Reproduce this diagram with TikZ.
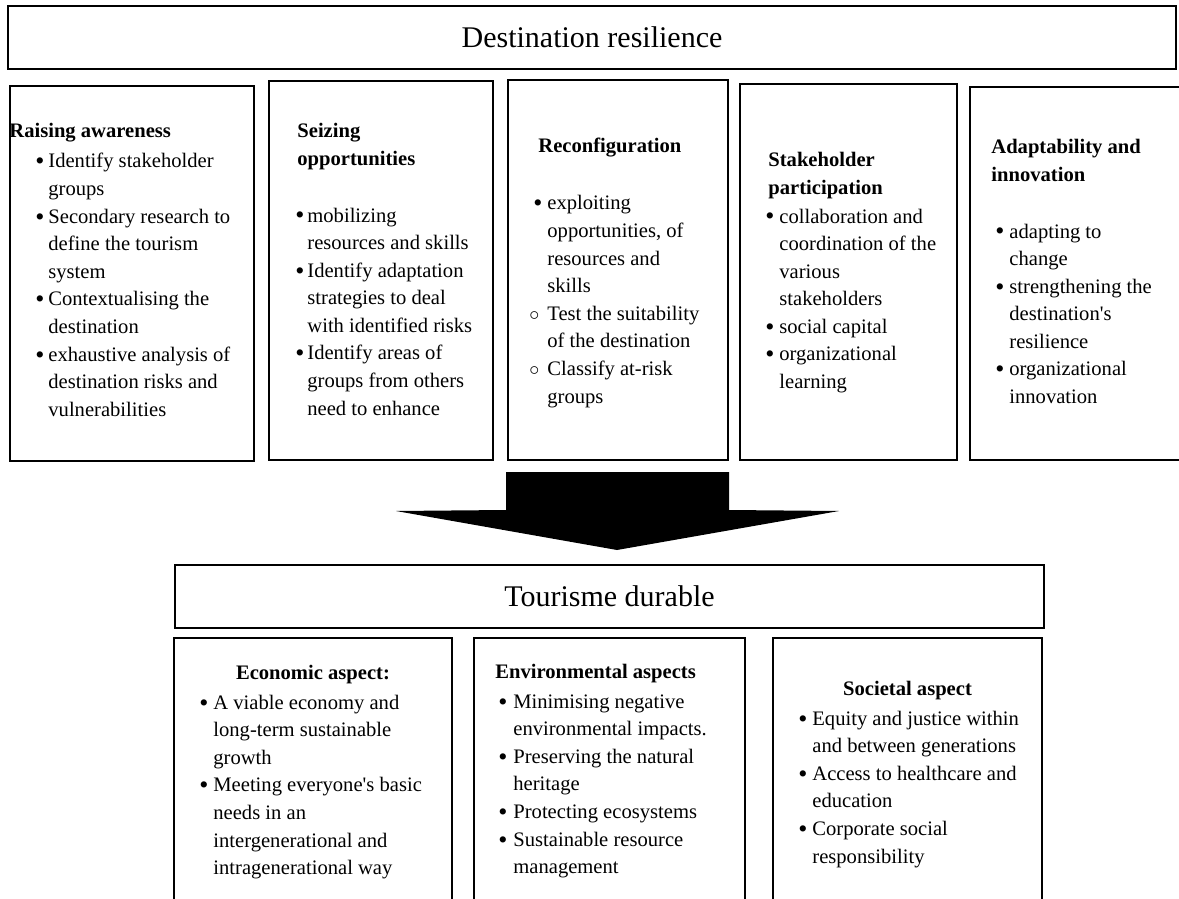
\documentclass[tikz,border=0pt]{standalone}
\usepackage{fontspec}
\setmainfont{Liberation Serif}
\usetikzlibrary{fit}

\newlength{\tind}
\newcommand{\blk}[1]{\begin{tabular}[t]{@{}l@{}}#1\end{tabular}}
\newcommand{\itm}{\makebox[\tind][l]{\raisebox{-1pt}{\fontsize{13}{13}\selectfont\textbullet}}}
\newcommand{\itmo}{\makebox[\tind][l]{\hspace*{-2pt}$\circ$}}
\newcommand{\cnt}{\hspace*{\tind}}

\begin{document}
\begin{tikzpicture}[
x=0.5pt, y=-0.5pt,
frame/.style={draw, line width=1pt, inner sep=0pt},
bigtitle/.style={inner sep=0pt, font=\fontsize{15}{18}\selectfont},
txt/.style={inner sep=0pt, anchor=base west, font=\fontsize{10.3}{13.8}\selectfont},
head/.style={txt, font=\fontsize{10.3}{13.8}\selectfont\bfseries},
lst/.style={txt, execute at begin node={\setlength{\tind}{#1}}}
]
\useasboundingbox (0,0) rectangle (1179,899);
\clip (0,0) rectangle (1179,899);
\fill[white] (0,0) rectangle (1179,899);

% resilience part
\node[frame, fit={(8,6) (1176,69)}] (top) {};
\node[bigtitle] (ttop) at (top.center) {Destination resilience};
\node[frame, fit={(10,86) (254,461)}] (r1) {};
\node[frame, fit={(269,81) (493,460)}] (r2) {};
\node[frame, fit={(508,80) (728,460)}] (r3) {};
\node[frame, fit={(740,84) (957,460)}] (r4) {};
\node[frame, fit={(970,87) (1195,460)}] (r5) {};

\node[head] (h1) at (9,138) {Raising awareness};
\node[head] (h2) at (297,138) {\blk{Seizing\\opportunities}};
\node[head] (h3) at (538,153) {Reconfiguration};
\node[head] (h4) at (768,167) {\blk{Stakeholder\\participation}};
\node[head] (h5) at (991,154) {\blk{Adaptability and\\innovation}};

\node[lst=6.5pt] (l1) at (35,168) {\blk{\itm Identify stakeholder\\ \cnt groups\\
  \itm Secondary research to\\ \cnt define the tourism\\ \cnt system\\
  \itm Contextualising the\\ \cnt destination\\
  \itm exhaustive analysis of\\ \cnt destination risks and\\ \cnt vulnerabilities}};
\node[lst=6pt] (l2) at (295,222) {\blk{\itm mobilizing\\ \cnt resources and skills\\
  \itm Identify adaptation\\ \cnt strategies to deal\\ \cnt with identified risks\\
  \itm Identify areas of\\ \cnt groups from others\\ \cnt need to enhance}};
\node[lst=7pt] (l3) at (533,210) {\blk{\itm exploiting\\ \cnt opportunities, of\\
  \cnt resources and\\ \cnt skills\\
  \itmo Test the suitability\\ \cnt of the destination\\
  \itmo Classify at-risk\\ \cnt groups}};
\node[lst=7pt] (l4) at (765,223) {\blk{\itm collaboration and\\ \cnt coordination of the\\
  \cnt various\\ \cnt stakeholders\\
  \itm social capital\\
  \itm organizational\\ \cnt learning}};
\node[lst=7pt] (l5) at (995,238) {\blk{\itm adapting to\\ \cnt change\\
  \itm strengthening the\\ \cnt destination\textquotesingle s\\ \cnt resilience\\
  \itm organizational\\ \cnt innovation}};

% big arrow
\fill (506,472) -- (729,472) -- (729,510) -- (839,511) -- (617,550)
  -- (396,511) -- (506,510) -- cycle;

% sustainable tourism part
\node[frame, fit={(175,565) (1044,628)}] (tour) {};
\node[bigtitle] (ttour) at (tour.center) {Tourisme durable};
\node[frame, fit={(174,638) (452,920)}] (rA) {};
\node[frame, fit={(474,638) (745,920)}] (rB) {};
\node[frame, fit={(773,638) (1042,920)}] (rC) {};

\node[head, anchor=base] (hA) at (313,679) {Economic aspect:};
\node[head] (hB) at (495,678) {Environmental aspects};
\node[head, anchor=base] (hC) at (907.5,695) {Societal aspect};

\node[lst=7pt] (lA) at (199,709) {\blk{\itm A viable economy and\\ \cnt long-term sustainable\\
  \cnt growth\\
  \itm Meeting everyone\textquotesingle s basic\\ \cnt needs in an\\
  \cnt intergenerational and\\ \cnt intragenerational way}};
\node[lst=7.5pt] (lB) at (498,708) {\blk{\itm Minimising negative\\ \cnt environmental impacts.\\
  \itm Preserving the natural\\ \cnt heritage\\
  \itm Protecting ecosystems\\
  \itm Sustainable resource\\ \cnt management}};
\node[lst=7pt] (lC) at (798,725) {\blk{\itm Equity and justice within\\ \cnt and between generations\\
  \itm Access to healthcare and\\ \cnt education\\
  \itm Corporate social\\ \cnt responsibility}};

\end{tikzpicture}
\end{document}
